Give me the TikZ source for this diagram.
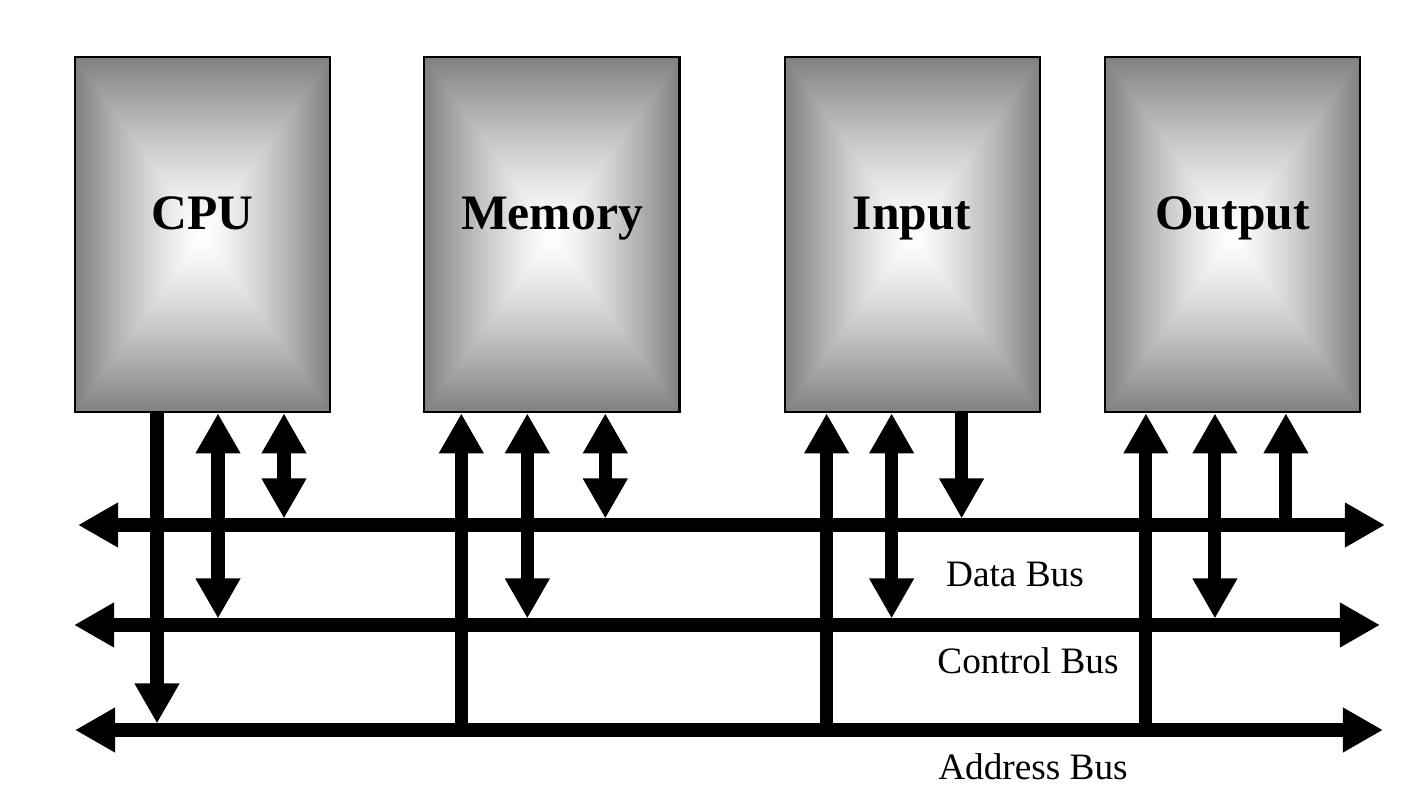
\documentclass[tikz,border=0pt]{standalone}
\usepackage{fontspec}
\setmainfont{Liberation Serif}
\usetikzlibrary{arrows.meta,calc,positioning}

% grey border fading to white in the middle, rectangular contours
\pgfdeclarefunctionalshading{boxfade}{\pgfpoint{-50bp}{-50bp}}{\pgfpoint{50bp}{50bp}}{}{
  abs exch abs 2 copy sub abs add add 2 div 25 div 1.3 exp 0.5 mul neg 1 add dup dup
}

\tikzset{
  unitbox/.style={draw, line width=0.6pt, shading=boxfade, minimum width=2.55cm, minimum height=3.55cm, inner sep=0pt},
  boxtitle/.style={font=\fontsize{14.1}{17}\selectfont\bfseries, anchor=base},
  bus/.style={line width=0.14cm},
  wire/.style={line width=0.13cm, shorten >=0.065cm},
  buslabel/.style={font=\fontsize{10.6}{13}\selectfont, anchor=base},
}

\begin{document}
\begin{tikzpicture}[x=0.01cm, y=-0.01cm, >={Triangle[length=0.4cm,width=0.42cm]}]
    \useasboundingbox[fill=white] (0,0) rectangle (1426,791);

    % The four units
    \node[unitbox, anchor=north west] (cpu) at (74,56) {};
    \node[unitbox, right=0.92cm of cpu] (mem) {};
    \node[unitbox, right=1.03cm of mem] (inp) {};
    \node[unitbox, right=0.63cm of inp] (out) {};

    \node[boxtitle] (cpu-title) at ([yshift=0.055cm]cpu.center) {CPU};
    \node[boxtitle] (mem-title) at ([yshift=0.055cm]mem.center) {Memory};
    \node[boxtitle] (inp-title) at ([yshift=0.055cm]inp.center) {Input};
    \node[boxtitle] (out-title) at ([yshift=0.055cm]out.center) {Output};

    % Bus end points
    \coordinate (data-w) at (78,525);
    \coordinate (data-e) at (1385,525);
    \coordinate (ctrl-w) at (74,625);
    \coordinate (ctrl-e) at (1380,625);
    \coordinate (addr-w) at (75,730);
    \coordinate (addr-e) at (1383,730);

    % Draw the buses
    \foreach \b in {data,ctrl,addr}
        \draw[bus, <->] (\b-w) -- (\b-e);

    % Connections from the units to the buses
    \foreach \u/\dx/\b/\tip in {cpu/83/addr/->, cpu/144/ctrl/<->, cpu/210/data/<->,
                                mem/38/addr/<-, mem/104/ctrl/<->, mem/182/data/<->,
                                inp/43/addr/<-, inp/108/ctrl/<->, inp/178/data/->,
                                out/42/addr/<-, out/111/ctrl/<->, out/182/data/<-}
    {
        \coordinate (tap) at ($(\u.south west)+(\dx,0)$);
        \draw[wire, \tip] (tap) -- (tap |- \b-w);
    }

    % Bus labels
    \node[buslabel] (data-lbl) at (1015,587) {Data Bus};
    \node[buslabel] (ctrl-lbl) at (1028,673) {Control Bus};
    \node[buslabel] (addr-lbl) at (1033,780) {Address Bus};
\end{tikzpicture}
\end{document}
